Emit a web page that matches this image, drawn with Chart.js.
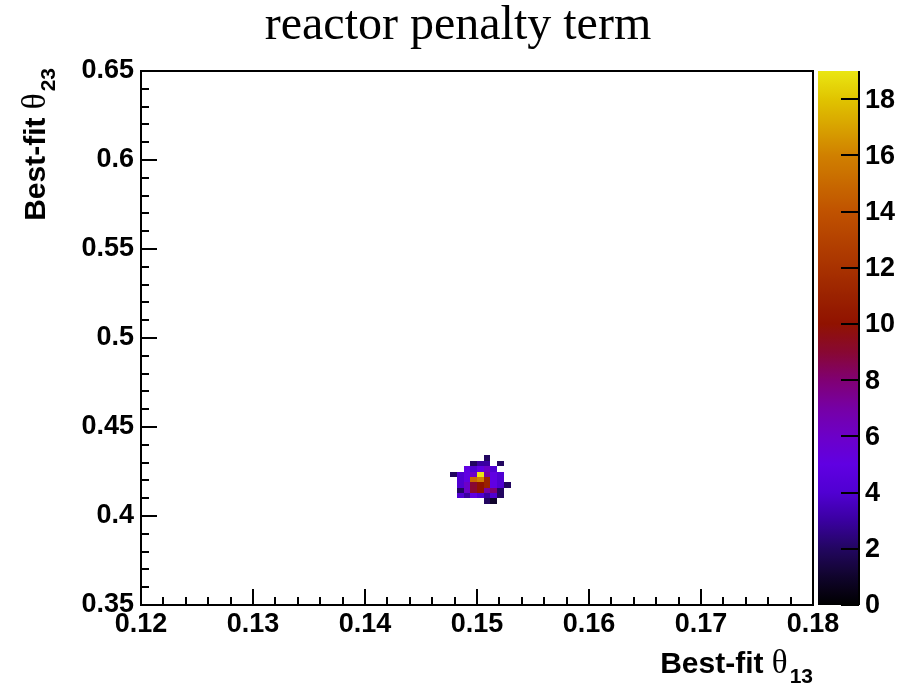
<!DOCTYPE html>
<html>
<head>
<meta charset="utf-8">
<script src="https://cdn.jsdelivr.net/npm/chart.js@4"></script>
<style>
  html, body { margin: 0; padding: 0; background: #ffffff; }
  #wrap { width: 911px; height: 687px; }
</style>
</head>
<body>
<div id="wrap"><canvas id="c" width="911" height="687"></canvas></div>
<script>
// Histogram binning (bin widths along each axis)
const BIN_W13 = 0.0006;
const BIN_W23 = 0.003;

// Filled bins: lower edge in theta13, lower edge in theta23, bin content
const cellTheta13 = [
  0.1506,
  0.1494, 0.1500, 0.1506, 0.1518,
  0.1488, 0.1494, 0.1500, 0.1506, 0.1512,
  0.1476, 0.1482, 0.1488, 0.1494, 0.1500, 0.1506, 0.1512, 0.1518,
  0.1482, 0.1488, 0.1494, 0.1500, 0.1506, 0.1512, 0.1518,
  0.1482, 0.1488, 0.1494, 0.1500, 0.1506, 0.1512, 0.1518, 0.1524,
  0.1482, 0.1488, 0.1494, 0.1500, 0.1506, 0.1512, 0.1518,
  0.1482, 0.1488, 0.1494, 0.1500, 0.1506, 0.1512, 0.1518,
  0.1506, 0.1512
];
const cellTheta23 = [
  0.431,
  0.428, 0.428, 0.428, 0.428,
  0.425, 0.425, 0.425, 0.425, 0.425,
  0.422, 0.422, 0.422, 0.422, 0.422, 0.422, 0.422, 0.422,
  0.419, 0.419, 0.419, 0.419, 0.419, 0.419, 0.419,
  0.416, 0.416, 0.416, 0.416, 0.416, 0.416, 0.416, 0.416,
  0.413, 0.413, 0.413, 0.413, 0.413, 0.413, 0.413,
  0.410, 0.410, 0.410, 0.410, 0.410, 0.410, 0.410,
  0.407, 0.407
];
const cellCounts = [
  2,
  2, 3, 3, 2,
  5, 4, 5, 6, 4,
  2, 4, 5, 6, 19, 7, 5, 4,
  4, 5, 15, 16, 11, 5, 4,
  4, 6, 9, 10, 11, 5, 4, 2,
  2, 6, 9, 10, 7, 8, 2,
  4, 3, 5, 4, 3, 4, 2,
  2, 1
];

// Axis ticks
const xMajorTicks = [0.12, 0.13, 0.14, 0.15, 0.16, 0.17, 0.18];
const yMajorTicks = [0.35, 0.40, 0.45, 0.50, 0.55, 0.60, 0.65];
const X_MINOR_STEP = 0.002;
const Y_MINOR_STEP = 0.01;
const zTicks = [0, 2, 4, 6, 8, 10, 12, 14, 16, 18];
const Z_MAX = 19;

// Colour palette stops (value -> rgb)
const paletteStops = [
  [0,  [0, 0, 0]],
  [1,  [16, 4, 44]],
  [2,  [34, 6, 96]],
  [3,  [58, 0, 160]],
  [4,  [80, 0, 210]],
  [5,  [96, 0, 226]],
  [6,  [108, 0, 200]],
  [7,  [118, 0, 165]],
  [8,  [128, 0, 115]],
  [9,  [136, 8, 50]],
  [10, [144, 18, 0]],
  [11, [154, 34, 0]],
  [12, [168, 50, 0]],
  [14, [192, 82, 0]],
  [16, [208, 128, 0]],
  [18, [224, 196, 0]],
  [19, [234, 230, 18]]
];

function palette(v) {
  if (v <= paletteStops[0][0]) return 'rgb(' + paletteStops[0][1].join(',') + ')';
  for (let i = 1; i < paletteStops.length; i++) {
    const [v1, c1] = paletteStops[i];
    const [v0, c0] = paletteStops[i - 1];
    if (v <= v1) {
      const t = (v - v0) / (v1 - v0);
      const c = c0.map((a, k) => Math.round(a + (c1[k] - a) * t));
      return 'rgb(' + c.join(',') + ')';
    }
  }
  return 'rgb(' + paletteStops[paletteStops.length - 1][1].join(',') + ')';
}

const cells = cellCounts.map((v, i) => ({
  x: cellTheta13[i] + BIN_W13 / 2,
  y: cellTheta23[i] + BIN_W23 / 2,
  x0: cellTheta13[i],
  y0: cellTheta23[i],
  v: v
}));

const LABEL_FONT = 'bold 27px "Liberation Sans", Arial, sans-serif';

function fmt(v) { return String(parseFloat(v.toFixed(3))); }

// Filled histogram bins
const heatPlugin = {
  id: 'heatCells',
  beforeDatasetsDraw(chart) {
    const { ctx, chartArea, scales: { x, y } } = chart;
    ctx.save();
    ctx.beginPath();
    ctx.rect(chartArea.left, chartArea.top, chartArea.width, chartArea.height);
    ctx.clip();
    chart.data.datasets[0].data.forEach(p => {
      const xa = Math.round(x.getPixelForValue(p.x0));
      const xb = Math.round(x.getPixelForValue(p.x0 + BIN_W13));
      const ya = Math.round(y.getPixelForValue(p.y0));
      const yb = Math.round(y.getPixelForValue(p.y0 + BIN_W23));
      ctx.fillStyle = palette(p.v);
      ctx.fillRect(xa, yb, xb - xa, ya - yb);
    });
    ctx.restore();
  }
};

// Frame, inward tick marks, title, axis titles and colour scale
const decorPlugin = {
  id: 'decor',
  afterDraw(chart) {
    const { ctx, chartArea: a, scales: { x, y } } = chart;
    ctx.save();
    ctx.strokeStyle = '#000';
    ctx.lineWidth = 2;
    ctx.strokeRect(a.left, a.top, a.width, a.height);

    ctx.beginPath();
    for (let v = x.min; v <= x.max + 1e-9; v += X_MINOR_STEP) {
      const px = Math.round(x.getPixelForValue(v));
      const isMajor = xMajorTicks.some(t => Math.abs(t - v) < 1e-6);
      const len = isMajor ? 16 : 8;
      ctx.moveTo(px, a.bottom);
      ctx.lineTo(px, a.bottom - len);
    }
    for (let v = y.min; v <= y.max + 1e-9; v += Y_MINOR_STEP) {
      const py = Math.round(y.getPixelForValue(v));
      const isMajor = yMajorTicks.some(t => Math.abs(t - v) < 1e-6);
      const len = isMajor ? 16 : 8;
      ctx.moveTo(a.left, py);
      ctx.lineTo(a.left + len, py);
    }
    ctx.stroke();

    // Title
    ctx.fillStyle = '#000';
    ctx.font = '48px "Liberation Serif", "Times New Roman", serif';
    ctx.textAlign = 'center';
    ctx.textBaseline = 'alphabetic';
    ctx.fillText('reactor penalty term', 458, 39);

    // Axis titles
    const mainFont = 'bold 30px "Liberation Sans", Arial, sans-serif';
    const thetaFont = '33px "Liberation Serif", "Times New Roman", serif';
    const subFont = 'bold 21px "Liberation Sans", Arial, sans-serif';
    function measure(font, s) { ctx.font = font; return ctx.measureText(s).width; }
    const w1 = measure(mainFont, 'Best-fit ');
    const w2 = measure(thetaFont, 'θ');
    const w3 = measure(subFont, '13');
    const xs = 813 - (w1 + w2 + 2 + w3);
    const base = 673;
    ctx.textAlign = 'left';
    ctx.font = mainFont; ctx.fillText('Best-fit ', xs, base);
    ctx.font = thetaFont; ctx.fillText('θ', xs + w1, base);
    ctx.font = subFont; ctx.fillText('13', xs + w1 + w2 + 2, base + 10);

    ctx.save();
    ctx.translate(45, 0);
    ctx.rotate(-Math.PI / 2);
    const w3b = measure(subFont, '23');
    const endY = -68;
    const startY = endY - (w1 + w2 + 2 + w3b);
    ctx.font = mainFont; ctx.fillText('Best-fit ', startY, 0);
    ctx.font = thetaFont; ctx.fillText('θ', startY + w1, 0);
    ctx.font = subFont; ctx.fillText('23', startY + w1 + w2 + 2, 10);
    ctx.restore();

    // Colour scale
    const cbL = 818, cbR = 859, cbT = a.top, cbB = a.bottom;
    const grad = ctx.createLinearGradient(0, cbB, 0, cbT);
    for (let i = 0; i <= 76; i++) {
      const v = Z_MAX * i / 76;
      grad.addColorStop(i / 76, palette(v));
    }
    ctx.fillStyle = grad;
    ctx.fillRect(cbL, cbT, cbR - cbL, cbB - cbT);
    ctx.strokeStyle = '#000';
    ctx.lineWidth = 2;
    ctx.beginPath();
    ctx.moveTo(cbR, cbT);
    ctx.lineTo(cbR, cbB);
    zTicks.forEach(t => {
      const py = Math.round(cbB - (t / Z_MAX) * (cbB - cbT));
      ctx.moveTo(cbR - 18, py);
      ctx.lineTo(cbR, py);
    });
    ctx.stroke();
    ctx.fillStyle = '#000';
    ctx.font = LABEL_FONT;
    ctx.textAlign = 'left';
    ctx.textBaseline = 'middle';
    zTicks.forEach(t => {
      const py = cbB - (t / Z_MAX) * (cbB - cbT);
      ctx.fillText(String(t), cbR + 6, py + 1);
    });
    ctx.restore();
  }
};

new Chart(document.getElementById('c'), {
  type: 'scatter',
  data: {
    datasets: [{
      label: 'bins',
      data: cells,
      pointRadius: 0,
      pointHoverRadius: 0,
      showLine: false
    }]
  },
  options: {
    responsive: false,
    animation: false,
    events: [],
    layout: { padding: { top: 71, right: 98, left: 0, bottom: 0 } },
    plugins: {
      legend: { display: false },
      tooltip: { enabled: false },
      title: { display: false }
    },
    scales: {
      x: {
        type: 'linear',
        min: 0.12,
        max: 0.18,
        grid: { display: false, drawTicks: false },
        border: { display: false },
        afterBuildTicks(scale) { scale.ticks = xMajorTicks.map(v => ({ value: v })); },
        afterFit(scale) { scale.height = 82; },
        ticks: {
          color: '#000',
          font: { family: '"Liberation Sans", Arial, sans-serif', size: 27, weight: 'bold' },
          padding: 3,
          maxRotation: 0,
          autoSkip: false,
          callback: v => fmt(v)
        }
      },
      y: {
        type: 'linear',
        min: 0.35,
        max: 0.65,
        grid: { display: false, drawTicks: false },
        border: { display: false },
        afterBuildTicks(scale) { scale.ticks = yMajorTicks.map(v => ({ value: v })); },
        afterFit(scale) { scale.width = 141; },
        ticks: {
          color: '#000',
          font: { family: '"Liberation Sans", Arial, sans-serif', size: 27, weight: 'bold' },
          padding: 7,
          autoSkip: false,
          callback: v => fmt(v)
        }
      }
    }
  },
  plugins: [heatPlugin, decorPlugin]
});
</script>
</body>
</html>
